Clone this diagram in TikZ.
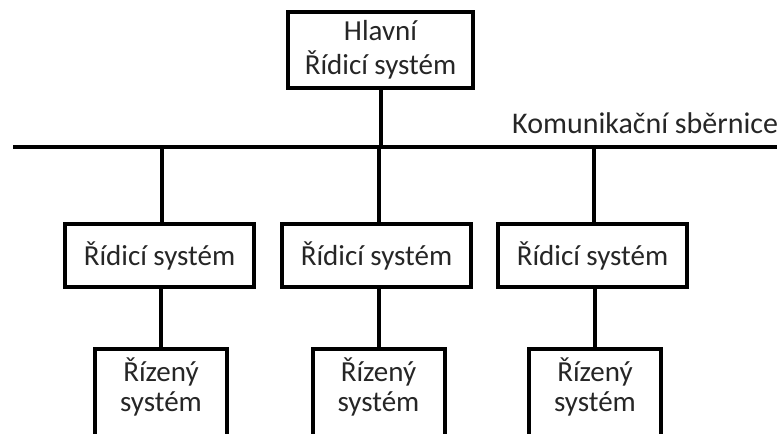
\documentclass[tikz,border=0pt]{standalone}
\usepackage{fontspec}
\setmainfont{Carlito}
\begin{document}
\begin{tikzpicture}[x=1pt,y=-1pt,
  box/.style={draw=black, line width=4pt, fill=white, inner sep=0pt, align=center,
    font=\fontsize{29}{34}\selectfont, text=black!85},
  lbl/.style={inner sep=0pt, align=center, font=\fontsize{29}{30}\selectfont, text=black!85},
  conn/.style={line width=4pt, draw=black}]
\useasboundingbox (0,0) rectangle (777,434);
\clip (0,0) rectangle (777,434);
% top box
\node[box, minimum width=185pt, minimum height=76pt] (top) at (380.5,50) {Hlavní\\Řídicí systém};
% bus
\coordinate (busL) at (13,147);
\coordinate (busR) at (780,147);
\draw[conn] (busL) -- (busR);
\node[lbl, anchor=base west, font=\fontsize{30}{30}\selectfont] (buslabel) at (512,133) {Komunikační sběrnice};
\draw[conn] (top.south) -- (top.south |- busL);
% middle boxes
\node[box, minimum width=189pt, minimum height=63pt] (m1) at (159.5,255.5) {Řídicí systém};
\node[box, minimum width=189pt, minimum height=63pt] (m2) at (376.5,255.5) {Řídicí systém};
\node[box, minimum width=189pt, minimum height=63pt] (m3) at (592.5,255.5) {Řídicí systém};
\coordinate (d1) at (162,147);
\coordinate (d2) at (379,147);
\coordinate (d3) at (594,147);
\draw[conn] (d1) -- (d1 |- m1.north);
\draw[conn] (d2) -- (d2 |- m2.north);
\draw[conn] (d3) -- (d3 |- m3.north);
% bottom boxes
\node[box, minimum width=132pt, minimum height=130pt, anchor=north] (b1) at (161,347) {};
\node[box, minimum width=132pt, minimum height=130pt, anchor=north] (b2) at (378.5,347) {};
\node[box, minimum width=132pt, minimum height=130pt, anchor=north] (b3) at (595,347) {};
\node[lbl, anchor=north] (t1) at (161,358) {Řízený\\systém};
\node[lbl, anchor=north] (t2) at (378.5,358) {Řízený\\systém};
\node[lbl, anchor=north] (t3) at (595,358) {Řízený\\systém};
\draw[conn] (b1.north |- m1.south) -- (b1.north);
\draw[conn] (b2.north |- m2.south) -- (b2.north);
\draw[conn] (b3.north |- m3.south) -- (b3.north);
\end{tikzpicture}
\end{document}
